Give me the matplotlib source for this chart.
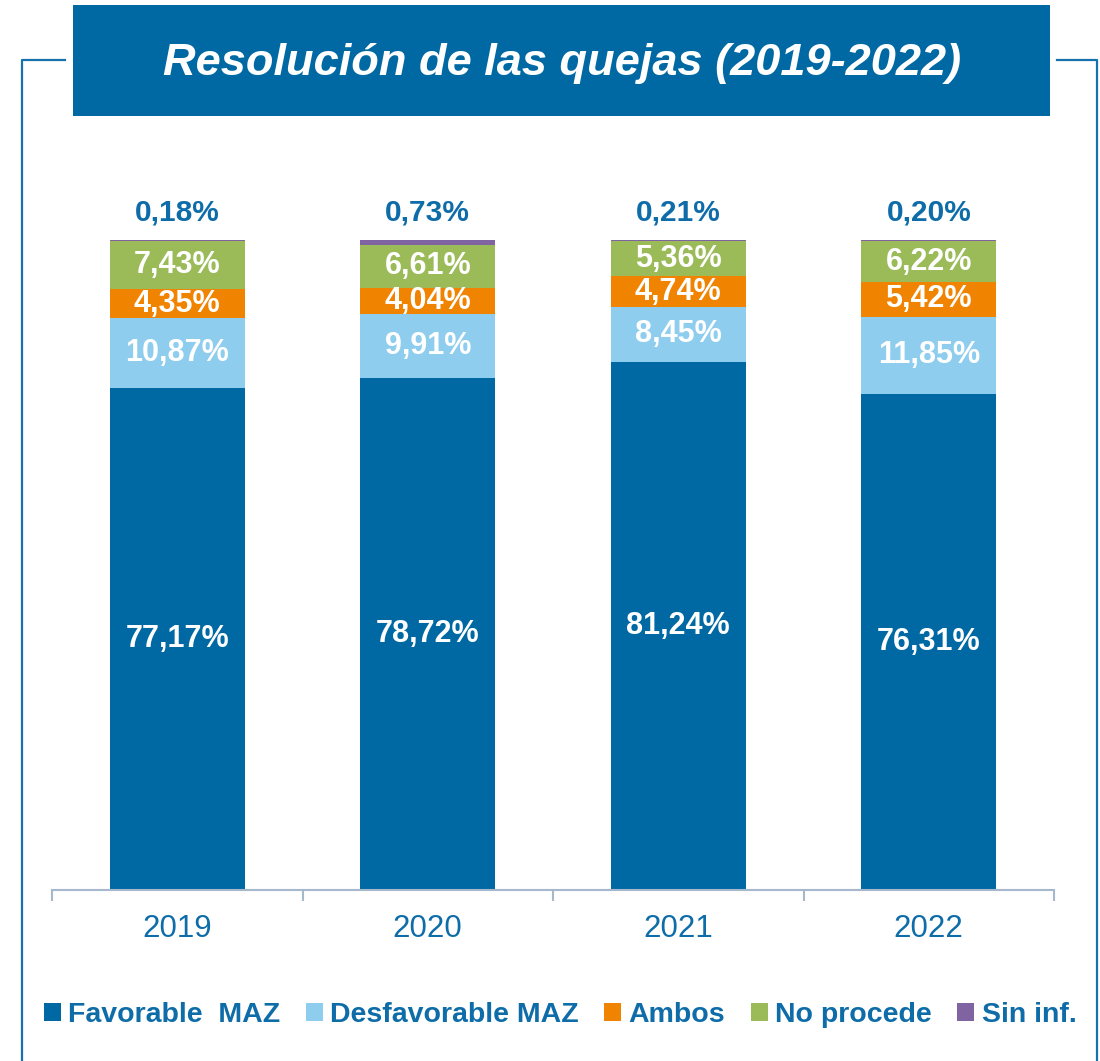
import numpy as np
import matplotlib.pyplot as plt
from matplotlib.patches import Rectangle, Patch
from matplotlib.lines import Line2D

plt.rcParams['font.family'] = ['Liberation Sans', 'DejaVu Sans']

# Data
years = ['2019', '2020', '2021', '2022']
series = ['Favorable  MAZ', 'Desfavorable MAZ', 'Ambos', 'No procede', 'Sin inf.']
favorable = [77.17, 78.72, 81.24, 76.31]
desfavorable = [10.87, 9.91, 8.45, 11.85]
ambos = [4.35, 4.04, 4.74, 5.42]
no_procede = [7.43, 6.61, 5.36, 6.22]
sin_inf = [0.18, 0.73, 0.21, 0.20]

colors = ['#0069A4', '#8ECDEE', '#F08300', '#9BBB59', '#8064A2']
text_blue = '#0E6CA8'
W, H = 1100, 1061

fig = plt.figure(figsize=(W / 100, H / 100), dpi=100)

# frame and title box
def fx(px):
    return px / W

def fy(py):
    return 1 - py / H

fig.add_artist(Rectangle((fx(73), fy(116)), fx(1050) - fx(73), fy(5) - fy(116),
                         transform=fig.transFigure, facecolor='#0069A4', edgecolor='none'))
fig.text(fx(562), fy(64), 'Resolución de las quejas (2019-2022)', color='white',
         fontsize=32.5, fontweight='bold', fontstyle='italic', ha='center', va='center')
frame_kw = dict(color='#1572AC', lw=1.6, transform=fig.transFigure)
fig.add_artist(Line2D([fx(22), fx(22), fx(65)], [0, fy(60), fy(60)], **frame_kw))
fig.add_artist(Line2D([fx(1057), fx(1097), fx(1097)], [fy(60), fy(60), 0], **frame_kw))

ax = fig.add_axes([fx(52), 1 - 890 / H, fx(1054) - fx(52), 650 / H])
x = np.arange(len(years))
width = 0.54
data = [favorable, desfavorable, ambos, no_procede, sin_inf]
bottom = np.zeros(len(years))
for i, vals in enumerate(data):
    vals = np.array(vals)
    ax.bar(x, vals, width, bottom=bottom, color=colors[i], label=series[i])
    for j, v in enumerate(vals):
        lbl = f'{v:.2f}%'.replace('.', ',')
        if i < 4:
            ax.text(x[j], bottom[j] + v / 2, lbl, ha='center', va='center',
                    color='white', fontsize=22, fontweight='bold')
        else:
            ax.annotate(lbl, (x[j], 100), xytext=(0, 20), textcoords='offset points',
                        ha='center', va='center', color=text_blue,
                        fontsize=21.5, fontweight='bold')
    bottom += vals

ax.set_xlim(-0.5, 3.5)
ax.set_ylim(0, 100)
for s in ['top', 'right', 'left']:
    ax.spines[s].set_visible(False)
ax.spines['bottom'].set_color('#A6B8CE')
ax.spines['bottom'].set_linewidth(1.5)
ax.set_yticks([])
ax.set_xticks(x)
ax.set_xticklabels(years, color=text_blue, fontsize=22.5)
ax.tick_params(axis='x', which='major', length=0, pad=17)
ax.set_xticks(np.arange(-0.5, 4, 1), minor=True)
ax.tick_params(axis='x', which='minor', length=8, width=1.5, color='#A6B8CE')

handles = [Patch(facecolor=c, edgecolor='none') for c in colors]
fig.legend(handles, series, loc='center', bbox_to_anchor=(fx(560), fy(1015)),
           ncol=5, frameon=False, handlelength=0.6, handleheight=0.6,
           handletextpad=0.25, columnspacing=0.9, labelcolor=text_blue,
           prop={'size': 20.5, 'weight': 'bold'})

fig.savefig('out.png', dpi=100)
